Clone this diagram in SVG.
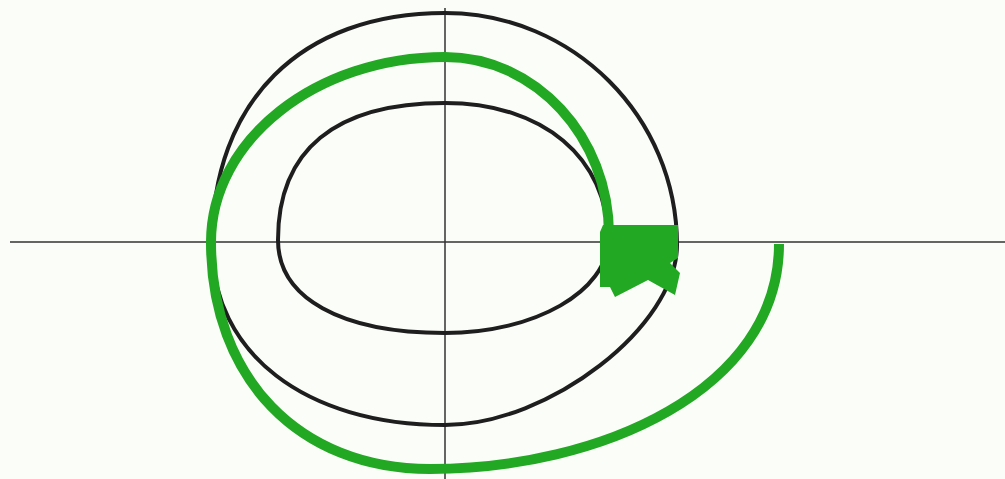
<svg xmlns="http://www.w3.org/2000/svg" width="1005" height="479" viewBox="0 0 1005 479">
<style>
.axis{stroke:#333;stroke-width:1.5;fill:none}
.blk{stroke:#1e1e1e;stroke-width:4;fill:none}
.grn{stroke:#22a822;stroke-width:10;fill:none;stroke-linecap:butt;stroke-linejoin:round}
</style>
<rect width="1005" height="479" fill="#fbfdf8"/>
<g id="axes">
<line class="axis" x1="10" y1="242" x2="1005" y2="242"/>
<line class="axis" x1="445" y1="8" x2="445" y2="479"/>
</g>
<g id="outer">
<path class="blk" d="M445,13 C573,13 677,117 677,245 C677,326 549,425 445,425 C305,425 212,353 212,245 C212,101 301,13 445,13 Z"/>
</g>
<g id="inner">
<path class="blk" d="M445,103 C543,103 608,158 608,240 C608,291 535,333 445,333 C341,333 278,298 278,240 C278,150 335,103 445,103 Z"/>
</g>
<g id="connectors">
<path class="grn" d="M779,244 C779,390 600,469 430,469 C299,469 211,378 211,242 C211,140 316,57 445,57 C535.5,57 609,137 609,235"/>
<polygon fill="#22a822" points="603,225 678,225 678,258 670,263 680,273 675,295 648,280 615,297 610,287 600,287 600,232"/>
</g>
</svg>
